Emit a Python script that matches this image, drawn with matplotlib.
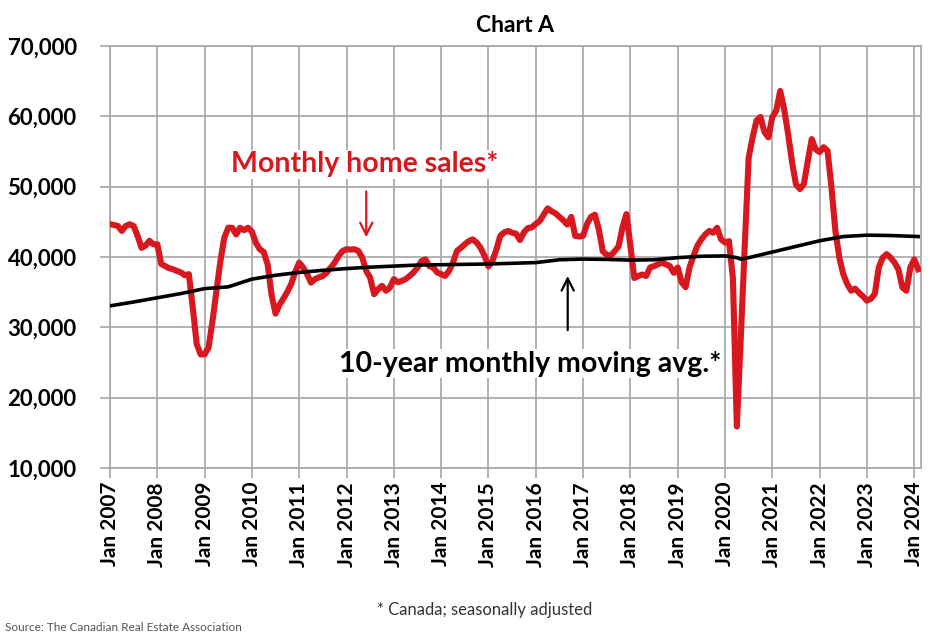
import matplotlib.pyplot as plt
import numpy as np

FONT = ['Lato', 'DejaVu Sans']
RED = '#d7191f'
GRID = '#a6a6a6'

# monthly home sales, Jan 2007 .. Feb 2024 (seasonally adjusted, Canada)
sales_2007 = [44650, 44550, 44400, 43700, 44400, 44650, 44400, 43000, 41300, 41600, 42300, 41800]
sales_2008 = [41800, 39000, 38700, 38400, 38250, 38000, 37800, 37400, 37550, 32800, 27600, 26150]
sales_2009 = [26150, 27100, 30900, 35150, 39400, 42750, 44150, 44150, 43200, 44150, 43800, 44150]
sales_2010 = [43600, 42000, 41100, 40700, 38900, 34550, 31950, 33200, 34100, 35050, 36200, 37900]
sales_2011 = [39200, 38500, 37550, 36350, 36850, 37100, 37300, 37800, 38500, 39200, 40150, 40850]
sales_2012 = [41100, 41050, 41100, 40850, 39900, 38000, 37050, 34700, 35400, 35900, 35200, 35650]
sales_2013 = [36850, 36400, 36600, 36850, 37300, 37800, 38500, 39400, 39650, 38700, 38500, 37800]
sales_2014 = [37550, 37300, 38000, 39200, 40850, 41300, 41800, 42250, 42500, 42050, 41300, 40150]
sales_2015 = [38650, 39400, 41050, 43000, 43500, 43700, 43450, 43300, 42400, 43500, 44100, 44200]
sales_2016 = [44700, 45100, 46000, 46900, 46500, 46200, 45700, 45200, 44600, 45700, 43000, 42900]
sales_2017 = [43000, 44700, 45700, 46000, 43900, 40800, 40300, 40200, 40800, 41500, 44200, 46100]
sales_2018 = [41500, 37000, 37300, 37500, 37300, 38500, 38700, 38950, 39200, 38950, 38700, 37750]
sales_2019 = [38500, 36400, 35700, 38500, 40150, 41600, 42500, 43200, 43700, 43450, 44150, 42500]
sales_2020 = [42050, 42250, 37000, 15900, 28500, 41500, 54100, 57000, 59400, 59900, 57750, 57000]
sales_2021 = [59900, 60800, 63600, 61000, 57500, 53500, 50300, 49650, 50350, 53650, 56750, 55300]
sales_2022 = [54900, 55600, 55100, 49900, 43700, 39900, 37550, 36150, 35200, 35500, 34900, 34400]
sales_2023 = [33800, 34050, 34750, 38500, 39900, 40400, 39900, 39200, 38200, 35650, 35200, 38500]
sales_2024 = [39650, 38250]

sales = (sales_2007 + sales_2008 + sales_2009 + sales_2010 + sales_2011 + sales_2012
         + sales_2013 + sales_2014 + sales_2015 + sales_2016 + sales_2017 + sales_2018
         + sales_2019 + sales_2020 + sales_2021 + sales_2022 + sales_2023 + sales_2024)

# 10-year moving average, read at these months (0 = Jan 2007)
avg_months = [0, 6, 12, 18, 24, 30, 36, 42, 48, 54, 60, 66, 72, 78, 84, 90, 96, 102,
              108, 114, 120, 126, 132, 138, 144, 150, 156, 159, 160, 162, 168, 174,
              180, 186, 192, 198, 205]
avg_values = [33050, 33600, 34200, 34800, 35500, 35750, 36850, 37400, 37800, 38100,
              38350, 38550, 38700, 38850, 38900, 38950, 39000, 39100, 39200, 39600,
              39700, 39650, 39550, 39600, 39900, 40100, 40150, 39900, 39700, 39900,
              40700, 41500, 42300, 42900, 43100, 43050, 42900]

years = list(range(2007, 2025))
tick_labels = ['Jan %d' % y for y in years]


def main():
    plt.rcParams['font.family'] = FONT
    fig = plt.figure(figsize=(9.36, 6.42), dpi=100)
    ax = fig.add_axes([0.1175, 0.271, 0.866, 0.6575])

    months = np.arange(len(sales))
    ax.plot(months, sales, color=RED, lw=4.4, solid_joinstyle='round', zorder=3)
    ax.plot(avg_months, avg_values, color='black', lw=2.6, zorder=4)

    ax.set_xlim(0, 205.6)
    ax.set_ylim(10000, 70000)
    ax.set_xticks([12 * i for i in range(len(years))])
    ax.set_xticklabels(tick_labels, rotation=90, fontsize=15, fontweight='bold')
    ax.set_yticks(range(10000, 70001, 10000))
    ax.set_yticklabels(['{:,}'.format(v) for v in range(10000, 70001, 10000)],
                       fontsize=16, fontweight='bold')
    ax.grid(True, color=GRID, lw=1.2)
    ax.set_axisbelow(True)
    for s in ax.spines.values():
        s.set_color(GRID)
        s.set_linewidth(1.2)
    ax.tick_params(axis='y', color=GRID, width=1.2, length=7, pad=17)
    ax.tick_params(axis='x', color=GRID, width=1.2, length=7, pad=3)

    ax.set_title('Chart A', fontsize=16.5, fontweight='bold', pad=10)

    # labels with arrows
    ax.text(64.7, 53200, 'Monthly home sales*', color=RED, fontsize=20.5,
            fontweight='bold', ha='center', va='center',
            bbox=dict(facecolor='white', edgecolor='none', pad=1), zorder=5)
    ax.annotate('', xy=(65, 42400), xytext=(65, 49700),
                arrowprops=dict(arrowstyle='->', color=RED, lw=1.6,
                                mutation_scale=22), zorder=5)
    ax.text(106.5, 24800, '10-year monthly moving avg.*', color='black', fontsize=20.5,
            fontweight='bold', ha='center', va='center',
            bbox=dict(facecolor='white', edgecolor='none', pad=1), zorder=5)
    ax.annotate('', xy=(116.1, 37700), xytext=(116.1, 29200),
                arrowprops=dict(arrowstyle='->', color='black', lw=1.6,
                                mutation_scale=22), zorder=5)

    fig.text(0.518, 0.05, '* Canada; seasonally adjusted', ha='center', va='center',
             fontsize=12, color='#333333')
    fig.text(0.005, 0.022, 'Source: The Canadian Real Estate Association', ha='left',
             va='center', fontsize=8.5, color='#555555')

    fig.savefig('out.png', dpi=100)


if __name__ == '__main__':
    main()
